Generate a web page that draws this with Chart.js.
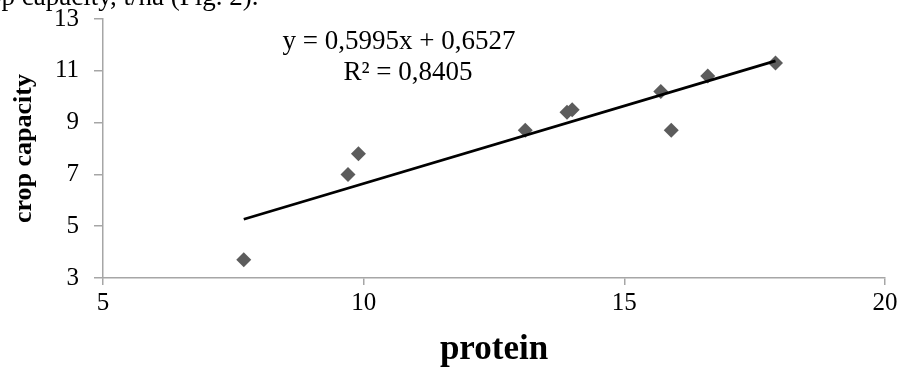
<!DOCTYPE html>
<html>
<head>
<meta charset="utf-8">
<script src="https://cdn.jsdelivr.net/npm/chart.js@4/dist/chart.umd.min.js"></script>
<style>
body { margin: 0; background: #fff; }
#wrap { position: relative; width: 901px; height: 371px; overflow: hidden; }
#cap { position: absolute; left: -33px; top: -19px; font: 27px "Liberation Serif", serif; color: #000; white-space: nowrap; }
canvas { position: absolute; left: 0; top: 0; }
</style>
</head>
<body>
<div id="wrap">
<canvas id="grafico" width="901" height="371"></canvas>
<div id="cap">crop capacity, t/ha (Fig. 2).</div>
</div>
<script>
// protein (x) vs crop capacity (y)
var protein = [7.7, 9.7, 9.9, 13.1, 13.9, 14.0, 15.7, 15.9, 16.6, 17.9];
var capacity = [3.7, 7.0, 7.8, 8.7, 9.4, 9.5, 10.2, 8.7, 10.8, 11.3];
var slope = 0.5995;
var intercept = 0.6527;
var equacao = ['y = 0,5995x + 0,6527', 'R\u00b2 = 0,8405'];

var pontos = [];
for (var i = 0; i < protein.length; i++) {
    pontos.push({x: protein[i], y: capacity[i]});
}
var xmin = Math.min.apply(null, protein);
var xmax = Math.max.apply(null, protein);
var tendencia = [
    {x: xmin, y: slope * xmin + intercept},
    {x: xmax, y: slope * xmax + intercept}
];

var serif = '"Liberation Serif", "Times New Roman", serif';
var eixo = '#a6a6a6';

var textoEquacao = {
    id: 'textoEquacao',
    afterDraw: function (chart) {
        var ctx = chart.ctx;
        ctx.save();
        ctx.fillStyle = '#000';
        ctx.font = '27px ' + serif;
        ctx.textAlign = 'center';
        ctx.textBaseline = 'middle';
        ctx.fillText(equacao[0], 399, 42);
        ctx.fillText(equacao[1], 408, 73);
        ctx.restore();
    }
};

var ctx = document.getElementById('grafico');
var myChart = new Chart(ctx, {
    type: 'scatter',
    data: {
        datasets: [{
            data: pontos,
            pointStyle: 'rectRot',
            pointRadius: 7.5,
            pointHoverRadius: 7.5,
            backgroundColor: '#5c5c5c',
            borderColor: '#5c5c5c',
            borderWidth: 0,
            order: 2
        }, {
            type: 'line',
            data: tendencia,
            borderColor: '#000',
            borderWidth: 2.8,
            pointRadius: 0,
            fill: false,
            order: 1
        }]
    },
    options: {
        responsive: false,
        animation: false,
        layout: {padding: {top: 19, right: 16, left: 0, bottom: 0}},
        plugins: {
            legend: {display: false},
            tooltip: {enabled: false}
        },
        scales: {
            x: {
                type: 'linear',
                min: 5,
                max: 20,
                ticks: {stepSize: 5, color: '#000', padding: 3, font: {family: serif, size: 25}},
                grid: {drawOnChartArea: false, color: eixo, tickLength: 7, lineWidth: 1.5},
                border: {color: eixo, width: 1.5},
                title: {display: true, text: 'protein', color: '#000', padding: {top: 0, bottom: 0},
                    font: {family: serif, size: 35, weight: 'bold'}},
                afterFit: function (scale) {
                    scale.height = 93;
                    scale.paddingRight = 0;
                    scale.paddingLeft = 0;
                }
            },
            y: {
                min: 3,
                max: 13,
                ticks: {stepSize: 2, color: '#000', padding: 15, font: {family: serif, size: 25}},
                grid: {drawOnChartArea: false, color: eixo, tickLength: 9, lineWidth: 1.5},
                border: {color: eixo, width: 1.5},
                title: {display: true, text: 'crop capacity', color: '#000', padding: {top: 9, bottom: 0},
                    font: {family: serif, size: 26, weight: 'bold'}},
                afterFit: function (scale) {
                    scale.width = 103;
                    scale.paddingTop = 0;
                    scale.paddingBottom = 0;
                }
            }
        }
    },
    plugins: [textoEquacao]
});
</script>
</body>
</html>
